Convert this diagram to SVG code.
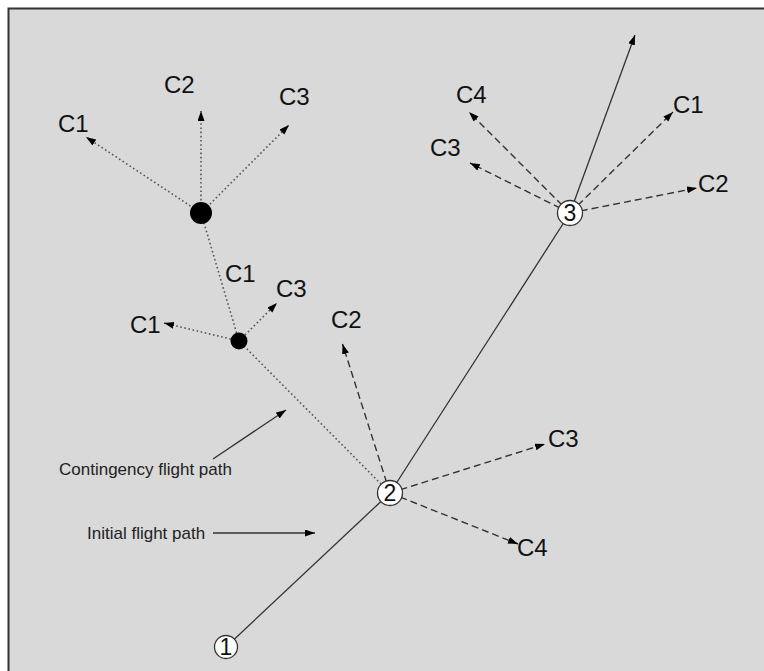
<svg xmlns="http://www.w3.org/2000/svg" width="764" height="671" viewBox="0 0 764 671">
<style>
  .lbl{font-family:"Liberation Sans",Arial,sans-serif;font-size:24px;fill:#111}
  .note{font-family:"Liberation Sans",Arial,sans-serif;font-size:17px;fill:#222}
  .num{font-family:"Liberation Sans",Arial,sans-serif;font-size:23px;fill:#111;text-anchor:middle}
  .solid{stroke:#333;stroke-width:1.3;fill:none}
  .dash{stroke:#333;stroke-width:1.4;fill:none;stroke-dasharray:7,4}
  .dot{stroke:#555;stroke-width:1.6;fill:none;stroke-dasharray:1.6,2.6}
  .wp{fill:#fff;stroke:#333;stroke-width:1.3}
  .bp{fill:#000}
</style>
<defs>
  <marker id="ah" markerUnits="userSpaceOnUse" markerWidth="11" markerHeight="8" refX="10" refY="3.5" orient="auto">
    <path d="M0,0 L10,3.5 L0,7 z" fill="#000"/>
  </marker>
</defs>
<rect x="0" y="0" width="764" height="671" fill="#fff"/>
<rect x="9" y="9" width="760" height="670" fill="#d9d9d9"/>
<path d="M8.5,671 V8.5 H764" fill="none" stroke="#333" stroke-width="2"/>

<g id="connectors">
  <line class="solid" x1="226" y1="647" x2="390" y2="493"/>
  <line class="solid" x1="390" y1="493" x2="570" y2="213"/>
  <line class="solid" x1="570" y1="213" x2="635" y2="35" marker-end="url(#ah)"/>

  <line class="dash" x1="570" y1="213" x2="469" y2="112" marker-end="url(#ah)"/>
  <line class="dash" x1="570" y1="213" x2="470" y2="163" marker-end="url(#ah)"/>
  <line class="dash" x1="570" y1="213" x2="673" y2="112" marker-end="url(#ah)"/>
  <line class="dash" x1="570" y1="213" x2="697" y2="188" marker-end="url(#ah)"/>

  <line class="dash" x1="390" y1="493" x2="342.5" y2="344" marker-end="url(#ah)"/>
  <line class="dash" x1="390" y1="493" x2="545" y2="444" marker-end="url(#ah)"/>
  <line class="dash" x1="390" y1="493" x2="518" y2="544" marker-end="url(#ah)"/>

  <line class="dot" x1="390" y1="493" x2="239" y2="341"/>
  <line class="dot" x1="239" y1="341" x2="201" y2="213"/>
  <line class="dot" x1="239" y1="341" x2="164" y2="323" marker-end="url(#ah)"/>
  <line class="dot" x1="239" y1="341" x2="277" y2="303" marker-end="url(#ah)"/>
  <line class="dot" x1="201" y1="213" x2="86" y2="137" marker-end="url(#ah)"/>
  <line class="dot" x1="201" y1="213" x2="201" y2="111" marker-end="url(#ah)"/>
  <line class="dot" x1="201" y1="213" x2="289" y2="125" marker-end="url(#ah)"/>

  <line class="solid" x1="213" y1="459" x2="286" y2="410" marker-end="url(#ah)"/>
  <line class="solid" x1="213" y1="533" x2="315" y2="533" marker-end="url(#ah)"/>
</g>

<g id="node1"><circle class="wp" cx="226" cy="647" r="11.5"/><text class="num" x="226" y="655">1</text></g>
<g id="node2"><circle class="wp" cx="390" cy="493" r="12.5"/><text class="num" x="390" y="501">2</text></g>
<g id="node3"><circle class="wp" cx="570" cy="213" r="12.5"/><text class="num" x="570" y="221">3</text></g>
<g id="dotBig"><circle class="bp" cx="201" cy="213" r="11"/></g>
<g id="dotSmall"><circle class="bp" cx="239" cy="341" r="8.5"/></g>

<g id="labels">
  <text class="lbl" x="58" y="132">C1</text>
  <text class="lbl" x="164" y="93">C2</text>
  <text class="lbl" x="279" y="105">C3</text>
  <text class="lbl" x="225" y="282">C1</text>
  <text class="lbl" x="276" y="297">C3</text>
  <text class="lbl" x="130" y="333">C1</text>
  <text class="lbl" x="331" y="328">C2</text>
  <text class="lbl" x="548" y="447">C3</text>
  <text class="lbl" x="517" y="556">C4</text>
  <text class="lbl" x="456" y="103">C4</text>
  <text class="lbl" x="430" y="156">C3</text>
  <text class="lbl" x="673" y="113">C1</text>
  <text class="lbl" x="698" y="192">C2</text>
  <text class="note" x="59" y="475">Contingency flight path</text>
  <text class="note" x="87" y="539">Initial flight path</text>
</g>
</svg>
